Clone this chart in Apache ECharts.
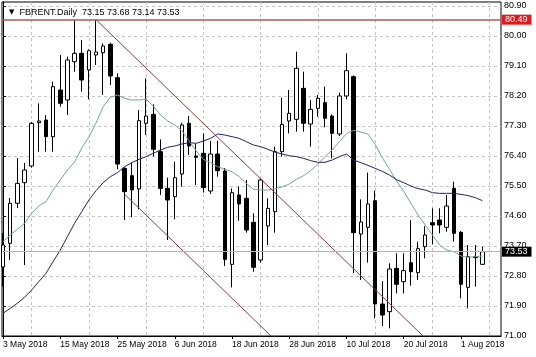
<!DOCTYPE html>
<html><head><meta charset="utf-8">
<script src="https://cdn.jsdelivr.net/npm/echarts@6/dist/echarts.min.js"></script>
<style>html,body{margin:0;padding:0;background:#fff}#c{width:536px;height:357px}</style>
</head><body><div id="c"></div>
<script>
const symbolName = 'FBRENT.Daily';
// daily bars, index 0 = 3 May 2018 ... 67 = 6 Aug 2018
const opens  = [73.07,73.78,74.98,75.60,76.10,77.40,77.48,76.98,78.38,78.08,79.23,79.48,78.98,79.43,79.50,79.75,78.75,76.03,75.81,75.41,77.38,77.65,76.53,75.43,75.18,75.86,77.38,76.40,76.48,75.35,76.46,75.95,73.15,75.23,75.13,74.41,73.28,74.30,74.73,76.53,77.45,77.50,78.43,77.36,77.83,78.00,77.60,77.06,78.20,78.78,74.06,74.26,75.06,71.96,71.73,73.03,72.63,73.20,72.90,73.68,74.40,74.48,74.26,75.43,74.11,72.46,73.38,73.15];
const highs  = [74.09,75.14,76.34,76.19,77.42,77.98,77.63,78.63,79.43,79.38,80.49,79.88,79.60,80.49,79.78,79.80,78.88,76.06,76.19,77.78,78.73,77.95,76.90,75.75,76.23,77.40,77.60,76.78,77.08,76.85,76.86,76.04,75.43,75.48,75.68,74.68,75.72,75.13,76.68,78.15,78.38,79.53,78.93,78.08,78.23,78.48,77.65,78.30,79.48,78.82,75.10,75.90,75.36,72.65,73.18,73.48,73.48,74.48,73.83,74.30,74.83,74.83,75.23,75.63,74.15,73.73,73.73,73.68];
const lows   = [72.48,73.28,74.84,73.13,76.05,76.53,76.53,76.53,77.88,77.63,78.93,78.33,78.10,79.13,78.23,78.53,76.00,74.48,74.56,74.80,77.03,76.38,75.23,73.88,74.50,75.48,76.43,75.53,75.30,75.26,75.78,73.10,72.46,74.46,74.10,72.93,73.20,73.73,74.10,76.38,77.08,77.13,77.13,76.68,77.58,77.26,76.33,77.00,78.10,72.88,72.68,73.20,71.53,71.30,71.23,72.28,72.28,72.51,72.68,73.33,73.75,74.08,74.13,73.83,72.13,71.83,72.48,73.14];
const closes = [73.73,74.98,75.58,75.98,77.38,77.45,76.98,78.48,77.98,79.28,79.48,78.68,79.56,79.52,79.70,78.80,76.16,75.33,75.38,77.46,77.60,76.60,75.43,75.08,75.75,77.33,76.70,76.36,75.45,76.46,75.96,73.30,75.30,74.96,74.18,73.06,75.68,74.83,76.53,77.35,77.68,79.03,77.38,77.80,78.13,77.53,77.08,78.20,78.96,74.10,74.42,74.96,71.96,71.63,73.01,72.55,72.96,72.93,73.62,74.03,74.33,74.33,74.90,74.08,72.55,73.38,73.35,73.53];
const maFast = [73.83,74.03,74.20,74.38,74.68,74.90,75.03,75.38,75.68,75.98,76.22,76.64,76.97,77.39,77.88,78.16,78.23,78.13,78.08,78.08,78.10,77.90,77.63,77.45,77.33,77.16,76.85,76.55,76.30,76.20,76.08,76.00,75.93,75.78,75.58,75.40,75.38,75.38,75.42,75.47,75.56,75.70,75.81,75.96,76.16,76.38,76.58,76.83,77.07,77.17,77.12,77.06,76.75,76.35,76.00,75.65,75.34,74.98,74.63,74.33,74.03,73.73,73.58,73.53,73.40,73.36,73.38,73.40];
const maSlow = [71.68,71.83,71.98,72.16,72.38,72.63,72.88,73.23,73.58,73.98,74.38,74.73,75.08,75.36,75.60,75.78,75.90,76.08,76.20,76.30,76.38,76.48,76.58,76.66,76.70,76.76,76.80,76.78,76.85,76.93,77.06,77.03,76.98,76.93,76.83,76.73,76.68,76.60,76.52,76.46,76.41,76.38,76.33,76.26,76.21,76.21,76.28,76.38,76.46,76.28,76.20,76.12,76.03,75.94,75.83,75.69,75.60,75.50,75.42,75.38,75.30,75.28,75.28,75.28,75.25,75.21,75.15,75.06];
const tickIndex  = [0, 8, 16, 24, 32, 40, 48, 56, 64];
const tickLabels = ['3 May 2018','15 May 2018','25 May 2018','6 Jun 2018','18 Jun 2018','28 Jun 2018','10 Jul 2018','20 Jul 2018','1 Aug 2018'];
const vGridIndex = [4, 12, 20, 28, 36, 44, 52, 60, 68];
const yTicks = [71.00, 71.90, 72.80, 73.70, 74.60, 75.50, 76.40, 77.30, 78.20, 79.10, 80.00, 80.90];
const resistanceLevel = 80.49;
const channelUpper = [[13, 80.49], [58.7, 71.00]];
const channelLower = [[17, 75.25], [37.45, 71.00]];

const last = opens.length - 1;
const bidLevel = closes[last];
const candles = opens.map((o, i) => [i, o, closes[i], lows[i], highs[i]]);
const FONT = 'Liberation Sans';

const chart = echarts.init(document.getElementById('c'), null, {renderer: 'canvas'});
chart.setOption({
  animation: false,
  backgroundColor: '#fff',
  title: {
    text: '{t|▼}  ' + symbolName + '  ' + [opens[last], highs[last], lows[last], closes[last]].map(v => v.toFixed(2)).join(' '),
    left: 4, top: 3,
    textStyle: {
      fontSize: 9, fontWeight: 'normal', fontFamily: FONT, color: '#000',
      rich: {t: {fontSize: 7, fontFamily: 'DejaVu Sans', color: '#000'}}
    }
  },
  grid: {left: 2, right: 35, top: 2, bottom: 21, show: true, borderColor: '#000', borderWidth: 1, backgroundColor: '#fff'},
  xAxis: [{
    type: 'value', min: -0.14, max: 69.59, position: 'bottom',
    axisLine: {show: true, onZero: false, lineStyle: {color: '#000'}},
    axisTick: {show: true, length: 3, customValues: tickIndex, lineStyle: {color: '#000'}},
    axisLabel: {show: true, customValues: tickIndex, align: 'left', margin: 4, fontSize: 8.5, fontFamily: FONT, color: '#000',
      formatter: v => tickLabels[tickIndex.indexOf(Math.round(v))] || ''},
    splitLine: {show: false}
  }, {
    type: 'value', min: -0.14, max: 69.59, position: 'bottom',
    axisLine: {show: false, onZero: false},
    axisTick: {show: false, customValues: vGridIndex},
    axisLabel: {show: false},
    splitLine: {show: true, lineStyle: {color: '#c4c4c4', type: [3, 3], width: 1}}
  }],
  yAxis: {
    type: 'value', position: 'right', min: 71, max: 81.02,
    axisLine: {show: true, lineStyle: {color: '#000'}},
    axisTick: {show: true, length: 3, customValues: yTicks, lineStyle: {color: '#000'}},
    axisLabel: {show: true, customValues: yTicks, margin: 3, fontSize: 9, fontFamily: FONT, color: '#000',
      formatter: v => v.toFixed(2)},
    splitLine: {show: true, lineStyle: {color: '#c4c4c4', type: [3, 3], width: 1}}
  },
  series: [{
    type: 'candlestick', xAxisIndex: 0, yAxisIndex: 0, data: candles, barWidth: 4, z: 3,
    itemStyle: {color: '#fff', color0: '#000', borderColor: '#000', borderColor0: '#000', borderWidth: 1},
    markLine: {
      silent: true, symbol: ['none', 'none'], animation: false,
      data: [{
        yAxis: resistanceLevel,
        lineStyle: {color: '#a65c5c', width: 1.5, type: 'solid'},
        label: {show: true, position: 'end', distance: 1, formatter: resistanceLevel.toFixed(2), color: '#fff', backgroundColor: '#e0191f', padding: [1, 4, 0, 3], fontSize: 9, fontFamily: FONT}
      }, {
        yAxis: bidLevel,
        lineStyle: {color: '#b4b4b4', width: 1, type: 'solid'},
        label: {show: true, position: 'end', distance: 1, formatter: bidLevel.toFixed(2), color: '#fff', backgroundColor: '#000', padding: [1, 4, 0, 3], fontSize: 9, fontFamily: FONT}
      }]
    }
  }, {
    type: 'line', xAxisIndex: 0, data: maFast.map((v, i) => [i, v]), showSymbol: false, z: 4,
    lineStyle: {color: '#74a595', width: 1}
  }, {
    type: 'line', xAxisIndex: 0, data: maSlow.map((v, i) => [i, v]), showSymbol: false, z: 4,
    lineStyle: {color: '#1e2660', width: 1}
  }, {
    type: 'line', xAxisIndex: 0, data: channelUpper, showSymbol: false, z: 4,
    lineStyle: {color: '#8c3c3c', width: 1}
  }, {
    type: 'line', xAxisIndex: 0, data: channelLower, showSymbol: false, z: 4,
    lineStyle: {color: '#8c3c3c', width: 1}
  }]
});
</script></body></html>
